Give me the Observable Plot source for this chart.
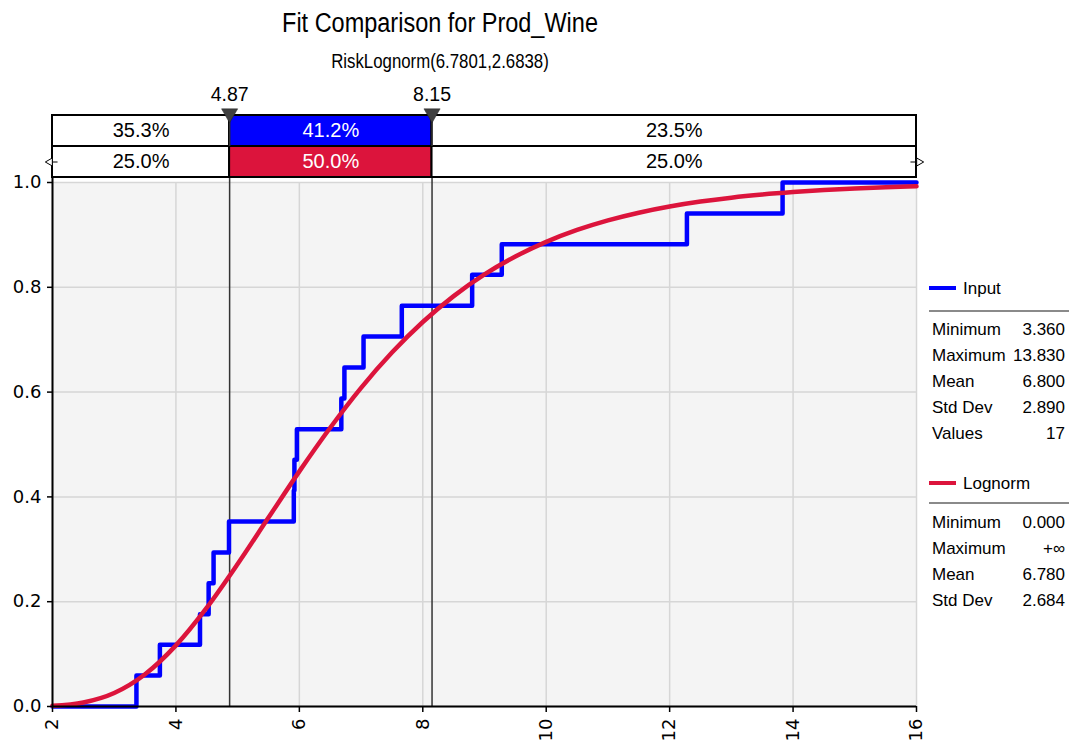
<!DOCTYPE html>
<html><head><meta charset="utf-8">
<script src="https://cdn.jsdelivr.net/npm/d3@7"></script>
<script src="https://cdn.jsdelivr.net/npm/@observablehq/plot@0.6"></script>
<style>
body{margin:0;background:#fff;}
#wrap{position:relative;width:1072px;height:747px;overflow:hidden;font-family:"Liberation Sans",Arial,sans-serif;color:#000;}
.abs{position:absolute;line-height:1;white-space:nowrap;}
#wrap svg{position:absolute;left:0;top:0;}
</style></head><body><div id="wrap"></div>
<script>
// ---- data ----
const titleText = "Fit Comparison for Prod_Wine";
const subtitleText = "RiskLognorm(6.7801,2.6838)";
const xTicks = [2, 4, 6, 8, 10, 12, 14, 16];
const yTicks = [0, 0.2, 0.4, 0.6, 0.8, 1.0];
const breakpoints = [4.87, 8.15];
const breakLabels = ["4.87", "8.15"];
const inputPct = ["35.3%", "41.2%", "23.5%"];
const fitPct = ["25.0%", "50.0%", "25.0%"];
// empirical CDF of the 17 input values (step-after)
const inputX = [2, 3.36, 3.74, 4.39, 4.53, 4.61, 4.86, 5.91, 5.92, 5.96, 6.68, 6.73, 7.04, 7.66, 8.80, 9.28, 12.28, 13.83, 16];
const inputP = [0, 0.059, 0.118, 0.176, 0.235, 0.294, 0.353, 0.412, 0.471, 0.529, 0.588, 0.647, 0.706, 0.765, 0.824, 0.882, 0.941, 1.0, 1.0];
// fitted lognormal CDF
const fitX = [2, 2.5, 3, 3.5, 4, 4.5, 5, 5.5, 6, 6.5, 7, 7.5, 8, 8.5, 9, 9.5, 10, 10.5, 11, 11.5, 12, 12.5, 13, 13.5, 14, 14.5, 15, 15.5, 16];
const fitP = [0.0013, 0.0077, 0.0258, 0.0616, 0.1167, 0.1886, 0.2719, 0.3605, 0.4487, 0.5319, 0.6081, 0.6755, 0.7338, 0.7832, 0.8246, 0.8587, 0.8867, 0.9094, 0.9277, 0.9424, 0.9542, 0.9636, 0.9711, 0.9770, 0.9817, 0.9855, 0.9885, 0.9908, 0.9927];
const inputStatLabels = ["Minimum", "Maximum", "Mean", "Std Dev", "Values"];
const inputStatValues = ["3.360", "13.830", "6.800", "2.890", "17"];
const fitStatLabels = ["Minimum", "Maximum", "Mean", "Std Dev"];
const fitStatValues = ["0.000", "+\u221e", "6.780", "2.684"];
const seriesNames = ["Input", "Lognorm"];
const colors = {input: "#0000ff", fit: "#dc143c"};

// ---- layout helpers (pixel rows of the top bands -> y units) ----
const Y = px => (706 - px) / 524;
const row1Top = Y(115), rowMid = Y(146), row2Bot = Y(177);

const inputData = inputX.map((x, i) => ({x, p: inputP[i]}));
const fitData = fitX.map((x, i) => ({x, p: fitP[i]}));
const edges = [2, ...breakpoints, 16];
const seg = (labels, mid) => labels.map((t, i) => ({
  x1: edges[i], x2: edges[i + 1], label: t,
  fill: i === 1 ? mid : "white", tcol: i === 1 ? "white" : "black"
}));
const row1 = seg(inputPct, colors.input);
const row2 = seg(fitPct, colors.fit);
const markers = breakpoints.map((b, i) => ({x: b, label: breakLabels[i]}));

const chart = Plot.plot({
  width: 1072, height: 747,
  marginLeft: 52, marginRight: 156, marginTop: 182, marginBottom: 41,
  x: {domain: [2, 16], label: null},
  y: {domain: [0, 1], label: null},
  color: {type: "identity"},
  style: {fontFamily: "Liberation Sans, Arial, sans-serif", fontSize: "17px", color: "black", background: "transparent", overflow: "visible"},
  marks: [
    Plot.frame({fill: "#f4f4f4"}),
    Plot.gridX(xTicks, {stroke: "#d6d6d6", strokeOpacity: 1, strokeWidth: 1.5}),
    Plot.gridY(yTicks, {stroke: "#d6d6d6", strokeOpacity: 1, strokeWidth: 1.5}),
    Plot.ruleX(breakpoints, {y1: 0, y2: row1Top, stroke: "#333", strokeWidth: 1.5}),
    Plot.line(inputData, {x: "x", y: "p", curve: "step-after", stroke: colors.input, strokeWidth: 4.5}),
    Plot.line(fitData, {x: "x", y: "p", curve: "monotone-x", stroke: colors.fit, strokeWidth: 4.5}),
    Plot.ruleY([0], {stroke: "black", strokeWidth: 2}),
    Plot.ruleX([2], {y1: 0, y2: row2Bot, stroke: "black", strokeWidth: 2}),
    // top bands
    Plot.rect(row1, {x1: "x1", x2: "x2", y1: rowMid, y2: row1Top, fill: "fill", stroke: "black", strokeWidth: 2}),
    Plot.rect(row2, {x1: "x1", x2: "x2", y1: row2Bot, y2: rowMid, fill: "fill", stroke: "black", strokeWidth: 2}),
    Plot.text(row1, {x: d => (d.x1 + d.x2) / 2, y: (row1Top + rowMid) / 2, text: "label", fill: "tcol", fontSize: 20, lineAnchor: "middle"}),
    Plot.text(row2, {x: d => (d.x1 + d.x2) / 2, y: (rowMid + row2Bot) / 2, text: "label", fill: "tcol", fontSize: 20, lineAnchor: "middle"}),
    Plot.ruleX(breakpoints, {y1: rowMid, y2: row1Top, stroke: "#333", strokeWidth: 1.5}),
    Plot.dot(markers, {x: "x", y: Y(113), symbol: "triangle", rotate: 180, r: 6, fill: "#404040", stroke: "#222", strokeWidth: 0.5}),
    Plot.text(markers, {x: "x", y: Y(94), text: "label", fontSize: 19.5, lineAnchor: "middle"}),
    // end arrows on the fit band
    Plot.ruleY([(rowMid + row2Bot) / 2], {x1: 2, x2: 2.09, stroke: "black", strokeWidth: 1}),
    Plot.ruleY([(rowMid + row2Bot) / 2], {x1: 15.91, x2: 16, stroke: "black", strokeWidth: 1}),
    Plot.dot([2], {x: d => d, y: (rowMid + row2Bot) / 2, dx: -2.5, symbol: "triangle", rotate: -90, r: 3, fill: "white", stroke: "black", strokeWidth: 1}),
    Plot.dot([16], {x: d => d, y: (rowMid + row2Bot) / 2, dx: 2.5, symbol: "triangle", rotate: 90, r: 3, fill: "white", stroke: "black", strokeWidth: 1}),
    // axes
    Plot.axisX({ticks: xTicks, tickRotate: -90, tickSize: 6, tickPadding: 6, fontSize: 18, fontFamily: "DejaVu Sans", label: null, strokeWidth: 1.5}),
    Plot.axisY({ticks: yTicks, tickFormat: ".1f", tickSize: 5, tickPadding: 6, fontSize: 18, fontFamily: "DejaVu Sans", label: null, strokeWidth: 1.5})
  ]
});

const wrap = document.getElementById("wrap");
wrap.appendChild(chart);

function addDiv(text, css) {
  const d = document.createElement("div");
  d.className = "abs";
  d.textContent = text;
  Object.assign(d.style, css);
  wrap.appendChild(d);
  return d;
}
// title & subtitle (condensed look via horizontal scaling)
addDiv(titleText, {left: "0px", width: "880px", textAlign: "center", top: "10px", fontSize: "27px", transform: "scaleX(0.87)", transformOrigin: "440px 0"});
addDiv(subtitleText, {left: "0px", width: "880px", textAlign: "center", top: "51px", fontSize: "20px", transform: "scaleX(0.84)", transformOrigin: "440px 0"});

// legend
function legendBlock(name, color, labels, values, lineY, nameBase, sepY, firstBase) {
  const ln = document.createElement("div");
  Object.assign(ln.style, {position: "absolute", left: "929px", top: (lineY - 2) + "px", width: "27px", height: "4px", background: color});
  wrap.appendChild(ln);
  addDiv(name, {left: "963px", top: (nameBase - 14.4) + "px", fontSize: "17px"});
  const sep = document.createElement("div");
  Object.assign(sep.style, {position: "absolute", left: "929px", top: (sepY - 1) + "px", width: "140px", height: "2px", background: "#8a8a8a"});
  wrap.appendChild(sep);
  labels.forEach((l, i) => {
    const b = firstBase + i * 26;
    addDiv(l, {left: "932px", top: (b - 14.4) + "px", fontSize: "17px"});
    addDiv(values[i], {left: "965px", width: "100px", textAlign: "right", top: (b - 14.4) + "px", fontSize: "17px"});
  });
}
legendBlock(seriesNames[0], colors.input, inputStatLabels, inputStatValues, 288, 294, 311, 335);
legendBlock(seriesNames[1], colors.fit, fitStatLabels, fitStatValues, 483, 489, 503, 528);
</script></body></html>
